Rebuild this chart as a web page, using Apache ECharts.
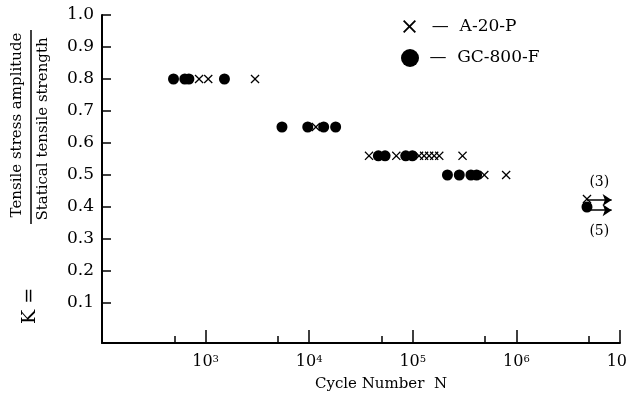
<!DOCTYPE html>
<html>
<head>
<meta charset="utf-8">
<script src="https://cdn.jsdelivr.net/npm/echarts@6/dist/echarts.min.js"></script>
<style>
  html, body { margin: 0; background: #fff; }
  #chart { width: 626px; height: 403px; }
</style>
</head>
<body>
<div id="chart"></div>
<script>
// A-20-P (crosses)
const a20pN = [865, 1060, 3000, 11600, 37800, 69300, 115000, 128600, 143800, 160800, 180000, 302000, 490000, 796000, 4.8e6];
const a20pK = [0.8, 0.8, 0.8, 0.65, 0.56, 0.56, 0.56, 0.56, 0.56, 0.56, 0.56, 0.56, 0.5, 0.5, 0.425];
// GC-800-F (dots)
const gcN = [490, 630, 690, 1520, 5460, 9680, 13800, 18000, 46500, 54000, 85500, 99000, 216000, 281000, 364000, 413000, 4.8e6];
const gcK = [0.8, 0.8, 0.8, 0.8, 0.65, 0.65, 0.65, 0.65, 0.56, 0.56, 0.56, 0.56, 0.5, 0.5, 0.5, 0.5, 0.40];

// run-out arrows (not failed)
const runoutStartN = 4.8e6;
const runoutEndN = 8.3e6;
const runoutK = [0.422, 0.39];
const runoutLabels = ['(3)', '(5)'];

const yTicks = [0.1, 0.2, 0.3, 0.4, 0.5, 0.6, 0.7, 0.8, 0.9, 1.0];
const minorTicksN = [500, 5000, 50000, 500000, 5000000];

const serif = '"DejaVu Serif", "Liberation Serif", serif';
const cross = 'path://M0,1L1,0L5,4L9,0L10,1L6,5L10,9L9,10L5,6L1,10L0,9L4,5Z';

const chart = echarts.init(document.getElementById('chart'));

const zip = (xs, ys) => xs.map((x, i) => [x, ys[i]]);

const arrow = (k, text, pos, dist) => ({
  silent: true,
  symbol: ['none', 'arrow'],
  symbolSize: 9,
  lineStyle: { color: '#000', width: 1.5, type: 'solid' },
  label: { show: true, formatter: text, position: pos, distance: dist, color: '#000', fontFamily: serif, fontSize: 14 },
  data: [[{ coord: [runoutStartN, k] }, { coord: [runoutEndN, k] }]]
});

const legendText = { fontFamily: serif, fontSize: 17, color: '#000' };

chart.setOption({
  animation: false,
  grid: { left: 102, right: 6, top: 15, bottom: 60, outerBoundsMode: 'none' },
  xAxis: [
    {
      type: 'log',
      logBase: 10,
      min: 100,
      max: 1e7,
      position: 'bottom',
      axisLine: { onZero: false, lineStyle: { color: '#000', width: 2 } },
      axisTick: { inside: true, length: 13, lineStyle: { color: '#000', width: 1.5 } },
      axisLabel: {
        margin: 11,
        showMaxLabel: true,
        formatter: v => {
          const e = Math.round(Math.log10(v));
          return e === 2 ? '' : '{b|10}{s|' + e + '}';
        },
        rich: {
          b: { fontFamily: serif, fontSize: 16, color: '#000' },
          s: { fontFamily: serif, fontSize: 10, color: '#000', verticalAlign: 'top' }
        }
      },
      splitLine: { show: false }
    },
    {
      type: 'value',
      min: 2,
      max: 7,
      position: 'bottom',
      axisLine: { show: false, onZero: false },
      axisTick: { inside: true, length: 7, customValues: minorTicksN.map(Math.log10), lineStyle: { color: '#000', width: 1.5 } },
      axisLabel: { show: false },
      splitLine: { show: false }
    }
  ],
  yAxis: {
    type: 'value',
    min: -0.025,
    max: 1.0,
    axisLine: { show: true, lineStyle: { color: '#000', width: 2 } },
    axisTick: { show: true, inside: true, length: 9, customValues: yTicks, lineStyle: { color: '#000', width: 1.5 } },
    axisLabel: { customValues: yTicks, formatter: v => v.toFixed(1), margin: 8, fontFamily: serif, fontSize: 17, color: '#000' },
    splitLine: { show: false }
  },
  legend: [
    {
      data: [{ name: 'A-20-P', icon: cross }],
      left: 403, top: 18, padding: 0,
      itemWidth: 13, itemHeight: 13,
      formatter: '  —  {name}',
      textStyle: legendText
    },
    {
      data: [{ name: 'GC-800-F', icon: 'circle' }],
      left: 401, top: 49, padding: 0,
      itemWidth: 18, itemHeight: 18,
      formatter: ' —  {name}',
      textStyle: legendText
    }
  ],
  series: [
    {
      name: 'GC-800-F',
      type: 'scatter',
      symbol: 'circle',
      symbolSize: 11,
      itemStyle: { color: '#000', opacity: 1 },
      data: zip(gcN, gcK),
      markLine: arrow(runoutK[1], runoutLabels[1], 'insideMiddleBottom', 14)
    },
    {
      name: 'A-20-P',
      type: 'scatter',
      symbol: cross,
      symbolSize: 9,
      itemStyle: { color: '#000', opacity: 1 },
      data: zip(a20pN, a20pK),
      markLine: arrow(runoutK[0], runoutLabels[0], 'insideMiddleTop', 11)
    }
  ],
  graphic: [
    { type: 'text', x: 17, y: 125, rotation: Math.PI / 2,
      style: { text: 'Tensile stress amplitude', fontFamily: serif, fontSize: 15, fill: '#000', align: 'center', verticalAlign: 'middle' } },
    { type: 'line', shape: { x1: 31, y1: 30, x2: 31, y2: 224 }, style: { stroke: '#000', lineWidth: 1.5 } },
    { type: 'text', x: 43, y: 129, rotation: Math.PI / 2,
      style: { text: 'Statical tensile strength', fontFamily: serif, fontSize: 15, fill: '#000', align: 'center', verticalAlign: 'middle' } },
    { type: 'text', x: 30, y: 306, rotation: Math.PI / 2,
      style: { text: 'K =', fontFamily: serif, fontSize: 19, fill: '#000', align: 'center', verticalAlign: 'middle' } },
    { type: 'text', x: 381, y: 384,
      style: { text: 'Cycle Number  N', fontFamily: serif, fontSize: 15, fill: '#000', align: 'center', verticalAlign: 'middle' } }
  ]
});
</script>
</body>
</html>
